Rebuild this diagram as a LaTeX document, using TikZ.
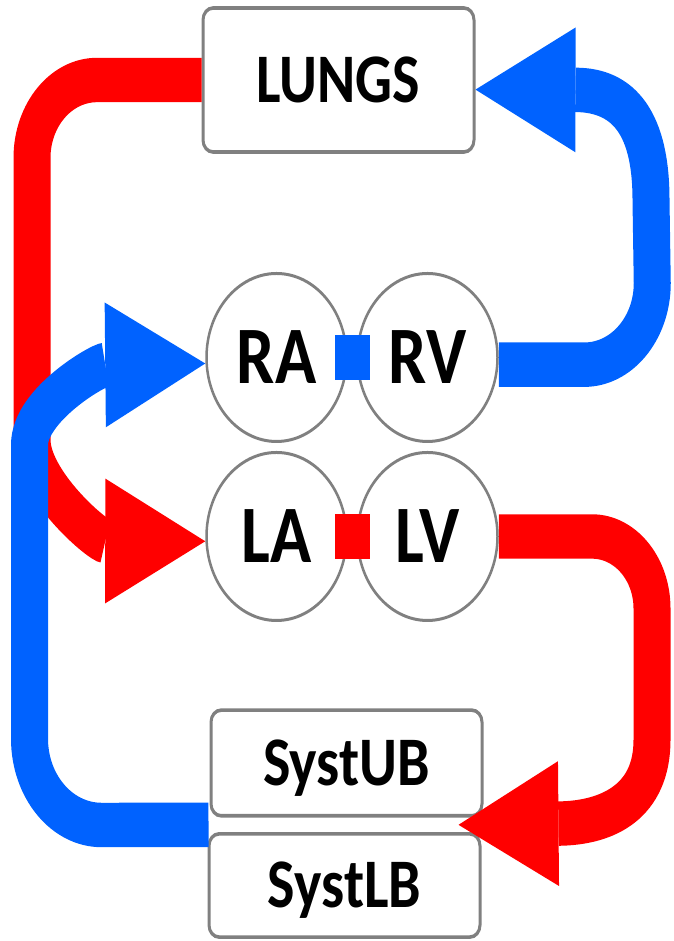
\documentclass[tikz,border=0pt]{standalone}
\usepackage{fontspec}
\setmainfont{Carlito}
\usepackage{tikz}
\usetikzlibrary{shapes.geometric, arrows.meta, calc}
\definecolor{flowRed}{RGB}{255,0,0}
\definecolor{flowBlue}{RGB}{0,98,255}
\definecolor{rimGray}{RGB}{128,128,128}
\tikzstyle{organBox} = [shape=rectangle, draw=rimGray, text=black, line width=3pt,
	rounded corners=10pt, fill=white, minimum width=271pt, inner sep=0pt,
	text height=37pt, text depth=0pt, font=\fontsize{58pt}{60pt}\selectfont\bfseries]
\tikzstyle{chamber} = [shape=circle, draw=rimGray, text=black, line width=2.5pt,
	fill=white, minimum size=140pt, inner sep=0pt, text height=43pt, text depth=0pt,
	font=\fontsize{68pt}{70pt}\selectfont\bfseries]
\tikzstyle{valve} = [shape=rectangle, minimum width=35pt, minimum height=37pt, inner sep=0pt]
\tikzstyle{flowArrow} = [line width=37pt, -{Triangle[length=100pt, width=104pt, line width=0pt]}]
\tikzstyle{redFlow} = [flowArrow, draw=flowRed]
\tikzstyle{blueFlow} = [flowArrow, draw=flowBlue]

\begin{document}
\begin{tikzpicture}[x=1pt, y=-1pt]
  \useasboundingbox (0,0) rectangle (673,941);
  \begin{scope}[transform canvas={yscale=1.2}, y=-0.8333pt]
  \node (LUNGS) [organBox, minimum height=120pt] at (338.5,80) {LUNGS};
  \node (RA) [chamber] at (276.5,357.5) {RA};
  \node (RV) [chamber, right of=RA, node distance=151pt] {RV};
  \node (LA) [chamber] at (276.5,536.5) {LA};
  \node (LV) [chamber, right of=LA, node distance=151pt] {LV};
  \node (RVALVE) [valve, fill=flowBlue] at ($(RA)!0.5!(RV)$) {};
  \node (LVALVE) [valve, fill=flowRed] at ($(LA)!0.5!(LV)$) {};
  \node (SYSTUB) [organBox, minimum height=88pt] at (346.5,763) {SystUB};
  \node (SYSTLB) [organBox, minimum height=86pt] at (344.5,885.5) {SystLB};
  \coordinate (SYSTW) at ($(SYSTUB.south west)!0.5!(SYSTLB.north west)$);
  \coordinate (SYSTE) at ($(SYSTUB.south east)!0.5!(SYSTLB.north east)$);

  \draw [redFlow] (LUNGS.west) -- (97,80) arc [start angle=90, end angle=180, radius=65pt]
    -- (32,440) .. controls (32,485) and (98,541) .. ([yshift=-4pt]LA.west);
  \draw [blueFlow] (SYSTW) -- (101.5,825) arc [start angle=270, end angle=180, radius=72pt]
    -- (29.5,445) .. controls (29.5,405) and (98,365) .. ([yshift=-5pt]RA.west);
  \draw [blueFlow] ([yshift=-6pt]RV.east) -- ++(85.5pt,0) arc [start angle=270, end angle=360, radius=68pt]
    -- (651,200) .. controls (651,125) and (625,90) .. ([yshift=-8pt]LUNGS.east);
  \draw [redFlow] (LV.east) -- (592,536.5) arc [start angle=90, end angle=0, radius=60pt]
    -- (652,740) .. controls (652,800) and (610,823) .. ([xshift=-24pt]SYSTE);
  \end{scope}
\end{tikzpicture}
\end{document}
